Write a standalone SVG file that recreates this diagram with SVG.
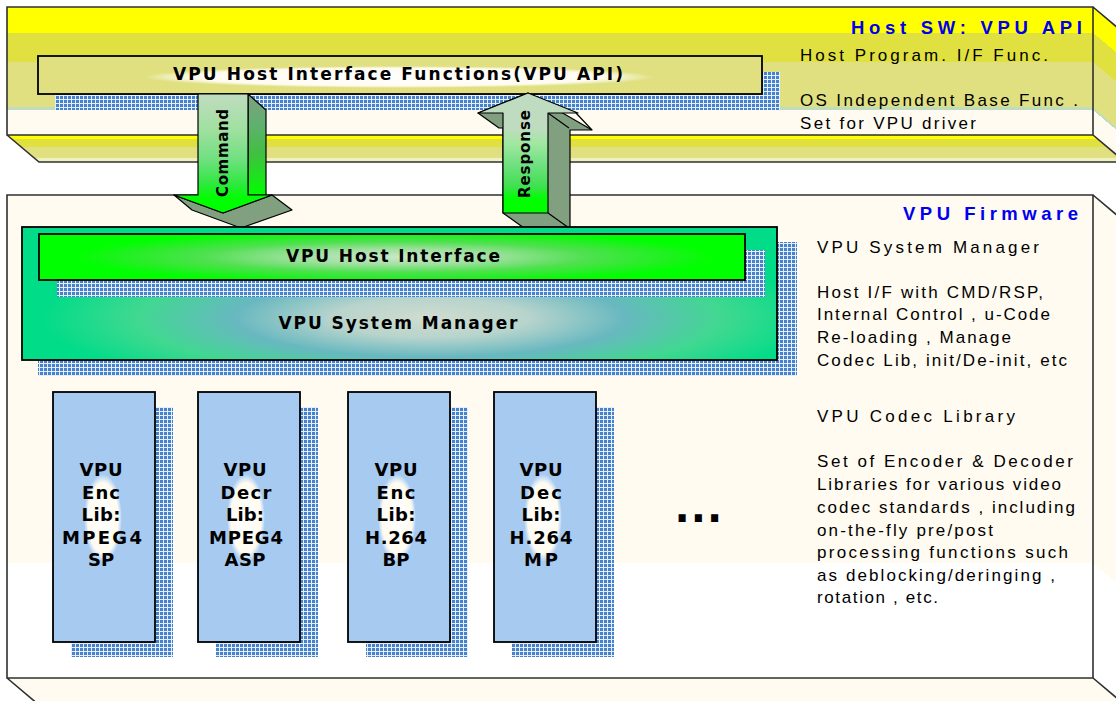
<svg xmlns="http://www.w3.org/2000/svg" width="1116" height="701" viewBox="0 0 1116 701">
<defs>
<style>
.edge{fill:none;stroke:#303030;stroke-width:1.6}
.box{stroke:#000;stroke-width:1.8}
.arw{stroke:#000;stroke-width:1.2;stroke-linejoin:round}
.desc{font-family:"Liberation Sans",Arial,sans-serif;font-size:17px;fill:#000}
.title{font-family:"Liberation Sans",Arial,sans-serif;font-size:18.5px;font-weight:bold;fill:#0000f0;text-anchor:end}
.bold{font-family:"DejaVu Sans",Verdana,sans-serif;font-size:17px;font-weight:bold;fill:#000;text-anchor:middle}
.lib{font-family:"DejaVu Sans",Verdana,sans-serif;font-size:18px;font-weight:bold;fill:#000;text-anchor:middle}
.lbl{font-family:"DejaVu Sans",Verdana,sans-serif;font-size:15px;font-weight:bold;fill:#000;text-anchor:middle;dominant-baseline:central}
</style>
<pattern id="stip" width="4" height="4" patternUnits="userSpaceOnUse">
<rect width="4" height="4" fill="#e4eefc"/>
<rect width="3" height="3" fill="#4682cc"/>
</pattern>
<linearGradient id="gTopFront" gradientUnits="userSpaceOnUse" x1="0" y1="7" x2="0" y2="135">
<stop offset="0" stop-color="#ffff00"/><stop offset="0.2" stop-color="#ffff00"/>
<stop offset="0.2" stop-color="#e0e040"/><stop offset="0.43" stop-color="#e0e040"/>
<stop offset="0.43" stop-color="#e0e080"/><stop offset="0.785" stop-color="#e0e080"/>
<stop offset="0.785" stop-color="#c0dcc0"/><stop offset="0.805" stop-color="#c0dcc0"/>
<stop offset="0.805" stop-color="#fffbf0"/><stop offset="1" stop-color="#fffbf0"/>
</linearGradient>
<linearGradient id="gTopRight" href="#gTopFront" gradientTransform="matrix(1,0.84,0,1,0,-918)"/>
<linearGradient id="gTopBottom" gradientUnits="userSpaceOnUse" x1="0" y1="135" x2="0" y2="162">
<stop offset="0" stop-color="#ffff00"/><stop offset="0.16" stop-color="#ffff00"/>
<stop offset="0.16" stop-color="#e0e040"/><stop offset="0.45" stop-color="#e0e040"/>
<stop offset="0.45" stop-color="#e0e080"/><stop offset="0.85" stop-color="#e0e080"/>
<stop offset="0.85" stop-color="#f0f0c0"/><stop offset="1" stop-color="#f0f0c0"/>
</linearGradient>
<linearGradient id="gLowFront" gradientUnits="userSpaceOnUse" x1="0" y1="195" x2="0" y2="678">
<stop offset="0" stop-color="#fffbf0"/><stop offset="0.762" stop-color="#fffbf0"/>
<stop offset="0.762" stop-color="#ffffff"/><stop offset="1" stop-color="#ffffff"/>
</linearGradient>
<linearGradient id="gLowRight" href="#gLowFront" gradientTransform="matrix(1,0.84,0,1,0,-918)"/>
<radialGradient id="glowW">
<stop offset="0" stop-color="#ffffff" stop-opacity="1"/>
<stop offset="0.8" stop-color="#fffbf0" stop-opacity="1"/>
<stop offset="1" stop-color="#ffffff" stop-opacity="0"/>
</radialGradient>
<radialGradient id="gSM" gradientUnits="userSpaceOnUse" cx="430" cy="318" r="390" gradientTransform="translate(0,254.4) scale(1,0.2)">
<stop offset="0" stop-color="#d0dcd0"/>
<stop offset="0.25" stop-color="#b8d4cc"/>
<stop offset="0.5" stop-color="#68b8c0"/>
<stop offset="0.75" stop-color="#40d890"/>
<stop offset="1" stop-color="#00dc88"/>
</radialGradient>
<radialGradient id="gHI" gradientUnits="userSpaceOnUse" cx="395" cy="257" r="320" gradientTransform="translate(0,236.4) scale(1,0.08)">
<stop offset="0" stop-color="#c8e8c8"/>
<stop offset="0.3" stop-color="#a0e0a0"/>
<stop offset="0.6" stop-color="#50e050"/>
<stop offset="0.85" stop-color="#20f020"/>
<stop offset="1" stop-color="#00ff00"/>
</radialGradient>
<linearGradient id="gCmdFront" gradientUnits="userSpaceOnUse" x1="0" y1="94" x2="0" y2="213">
<stop offset="0" stop-color="#c0dcc0"/>
<stop offset="0.3" stop-color="#a0e0a0"/>
<stop offset="0.55" stop-color="#70e080"/>
<stop offset="0.75" stop-color="#30e840"/>
<stop offset="0.88" stop-color="#00ff00"/>
<stop offset="1" stop-color="#00ff00"/>
</linearGradient>
<linearGradient id="gCmdSide" gradientUnits="userSpaceOnUse" x1="0" y1="94" x2="0" y2="195">
<stop offset="0" stop-color="#80a080"/>
<stop offset="0.3" stop-color="#60b070"/>
<stop offset="0.6" stop-color="#40c040"/>
<stop offset="1" stop-color="#00ff00"/>
</linearGradient>
<linearGradient id="gRspFront" gradientUnits="userSpaceOnUse" x1="0" y1="93" x2="0" y2="213">
<stop offset="0" stop-color="#c0dcc0"/>
<stop offset="0.3" stop-color="#c0dcc0"/>
<stop offset="0.42" stop-color="#a0e8a0"/>
<stop offset="0.6" stop-color="#70e080"/>
<stop offset="0.78" stop-color="#40e050"/>
<stop offset="0.88" stop-color="#00ff00"/>
<stop offset="1" stop-color="#00ff00"/>
</linearGradient>
</defs>

<rect width="1116" height="701" fill="#ffffff"/>

<g id="host-sw">
<polygon points="7,135 1093,135 1125,162 39,162" fill="url(#gTopBottom)"/>
<polygon points="1093,7 1125,34 1125,162 1093,135" fill="url(#gTopRight)"/>
<rect x="7" y="7" width="1086" height="128" fill="url(#gTopFront)"/>
<path class="edge" d="M7,7 H1093 V135 H7 Z M7,135 L39,162 H1125 M1093,7 L1125,34 M1093,135 L1125,162"/>
<text class="title" x="1082" y="34" textLength="231" lengthAdjust="spacing">Host SW: VPU API</text>
<text class="desc" x="800" y="61" textLength="248" lengthAdjust="spacing">Host Program. I/F Func.</text>
<text class="desc" x="800" y="106" textLength="278" lengthAdjust="spacing">OS Independent Base Func .</text>
<text class="desc" x="800" y="129" textLength="176" lengthAdjust="spacing">Set for VPU driver</text>
</g>

<g id="vpu-firmware">
<polygon points="7,678 1093,678 1125,705 39,705" fill="#fffbf0"/>
<polygon points="1093,195 1125,222 1125,705 1093,678" fill="url(#gLowRight)"/>
<rect x="7" y="195" width="1086" height="483" fill="url(#gLowFront)"/>
<path class="edge" d="M7,195 H1093 V678 H7 Z M7,678 L39,705 H1125 M1093,195 L1125,222 M1093,678 L1125,705"/>
<text class="title" x="1078" y="220" textLength="175" lengthAdjust="spacing">VPU Firmware</text>
<text class="desc" x="817" y="253" textLength="222" lengthAdjust="spacing">VPU System Manager</text>
<text class="desc" x="817" y="298" textLength="226" lengthAdjust="spacing">Host I/F with CMD/RSP,</text>
<text class="desc" x="817" y="320" textLength="233" lengthAdjust="spacing">Internal Control , u-Code</text>
<text class="desc" x="817" y="343" textLength="194" lengthAdjust="spacing">Re-loading , Manage</text>
<text class="desc" x="817" y="366" textLength="250" lengthAdjust="spacing">Codec Lib, init/De-init, etc</text>
<text class="desc" x="817" y="422" textLength="198" lengthAdjust="spacing">VPU Codec Library</text>
<text class="desc" x="817" y="467" textLength="256" lengthAdjust="spacing">Set of Encoder &amp; Decoder</text>
<text class="desc" x="817" y="490" textLength="244" lengthAdjust="spacing">Libraries for various video</text>
<text class="desc" x="817" y="513" textLength="258" lengthAdjust="spacing">codec standards , including</text>
<text class="desc" x="817" y="536" textLength="176" lengthAdjust="spacing">on-the-fly pre/post</text>
<text class="desc" x="817" y="558" textLength="251" lengthAdjust="spacing">processing functions such</text>
<text class="desc" x="817" y="581" textLength="238" lengthAdjust="spacing">as deblocking/deringing ,</text>
<text class="desc" x="817" y="603" textLength="121" lengthAdjust="spacing">rotation , etc.</text>
<text x="674.6" y="522" font-family="DejaVu Sans, Verdana, sans-serif" font-size="40" font-weight="bold" letter-spacing="1" fill="#000">...</text>
</g>

<g id="host-if-functions">
<path d="M55,94 H762 V72 H780 V110 H55 Z" fill="url(#stip)"/>
<rect x="38" y="56" width="724" height="38" fill="#e0e080" class="box"/>
<ellipse cx="399" cy="77" rx="255" ry="11" fill="url(#glowW)"/>
<text class="bold" x="398" y="80" textLength="450" lengthAdjust="spacing">VPU Host Interface Functions(VPU API)</text>
</g>

<g id="connectors">
<g id="cmd-arrow">
<polygon class="arw" points="248,94 266,110 266,195 248,195" fill="url(#gCmdSide)"/>
<polygon class="arw" points="174,195 223,213 272,195 292,210 241,228 192,210" fill="#80a080"/>
<polygon class="arw" points="198,94 248,94 248,195 272,195 223,213 174,195 198,195" fill="url(#gCmdFront)"/>
<text class="lbl" transform="translate(223,153) rotate(-90)" textLength="88" lengthAdjust="spacing">Command</text>
</g>
<g id="rsp-arrow">
<polygon class="arw" points="478,113 528,93 592,130 570,130 570,228 524,228 503,213 503,128 499,128" fill="#80a080"/>
<path class="arw" fill="none" d="M548,113 L569,128 M576,113 L592,130 M548,213 L569,228"/>
<polygon class="arw" points="478,113 528,93 578,113 548,113 548,213 503,213 503,113" fill="url(#gRspFront)"/>
<text class="lbl" transform="translate(525,154) rotate(-90)" textLength="88" lengthAdjust="spacing">Response</text>
</g>
</g>

<g id="system-manager">
<path d="M777,242 H797 V376 H38 V360 H777 Z" fill="url(#stip)"/>
<rect x="22" y="227" width="755" height="133" fill="url(#gSM)" class="box"/>
<text class="bold" x="398" y="329" textLength="239" lengthAdjust="spacing">VPU System Manager</text>
</g>

<g id="host-interface">
<path d="M745,250 H765 V297 H57 V280 H745 Z" fill="url(#stip)"/>
<rect x="39" y="234" width="706" height="46" fill="url(#gHI)" class="box"/>
<text class="bold" x="393" y="262" textLength="214" lengthAdjust="spacing">VPU Host Interface</text>
</g>

<g id="lib-enc-mpeg4-sp">
<path d="M155,407 H173 V657 H71 V642 H155 Z" fill="url(#stip)"/>
<rect x="53" y="392" width="102" height="250" fill="#a6caf0" class="box"/>
<ellipse cx="103" cy="518" rx="19" ry="44" fill="url(#glowW)"/>
<text class="lib" x="101" y="476" textLength="43" lengthAdjust="spacing">VPU</text>
<text class="lib" x="101" y="498.5" textLength="38" lengthAdjust="spacing">Enc</text>
<text class="lib" x="101" y="521" textLength="39" lengthAdjust="spacing">Lib:</text>
<text class="lib" x="102" y="543.5" textLength="80" lengthAdjust="spacing">MPEG4</text>
<text class="lib" x="101" y="566">SP</text>
</g>

<g id="lib-dec-mpeg4-asp">
<path d="M300,407 H318 V657 H216 V642 H300 Z" fill="url(#stip)"/>
<rect x="198" y="392" width="102" height="250" fill="#a6caf0" class="box"/>
<ellipse cx="246" cy="518" rx="19" ry="44" fill="url(#glowW)"/>
<text class="lib" x="245" y="476" textLength="43" lengthAdjust="spacing">VPU</text>
<text class="lib" x="246" y="498.5" textLength="51" lengthAdjust="spacing">Decr</text>
<text class="lib" x="245" y="521" textLength="38" lengthAdjust="spacing">Lib:</text>
<text class="lib" x="246" y="543.5" textLength="74" lengthAdjust="spacing">MPEG4</text>
<text class="lib" x="245" y="566" textLength="41" lengthAdjust="spacing">ASP</text>
</g>

<g id="lib-enc-h264-bp">
<path d="M450,407 H468 V657 H366 V642 H450 Z" fill="url(#stip)"/>
<rect x="348" y="392" width="102" height="250" fill="#a6caf0" class="box"/>
<ellipse cx="397" cy="518" rx="19" ry="44" fill="url(#glowW)"/>
<text class="lib" x="396" y="476" textLength="43" lengthAdjust="spacing">VPU</text>
<text class="lib" x="396" y="498.5" textLength="39" lengthAdjust="spacing">Enc</text>
<text class="lib" x="396" y="521" textLength="39" lengthAdjust="spacing">Lib:</text>
<text class="lib" x="396" y="543.5" textLength="62" lengthAdjust="spacing">H.264</text>
<text class="lib" x="396" y="566">BP</text>
</g>

<g id="lib-dec-h264-mp">
<path d="M596,407 H614 V657 H512 V642 H596 Z" fill="url(#stip)"/>
<rect x="494" y="392" width="102" height="250" fill="#a6caf0" class="box"/>
<ellipse cx="543" cy="518" rx="19" ry="44" fill="url(#glowW)"/>
<text class="lib" x="541" y="476" textLength="43" lengthAdjust="spacing">VPU</text>
<text class="lib" x="541" y="498.5" textLength="42" lengthAdjust="spacing">Dec</text>
<text class="lib" x="541" y="521" textLength="39" lengthAdjust="spacing">Lib:</text>
<text class="lib" x="541" y="543.5" textLength="63" lengthAdjust="spacing">H.264</text>
<text class="lib" x="541" y="566" textLength="34" lengthAdjust="spacing">MP</text>
</g>
</svg>
